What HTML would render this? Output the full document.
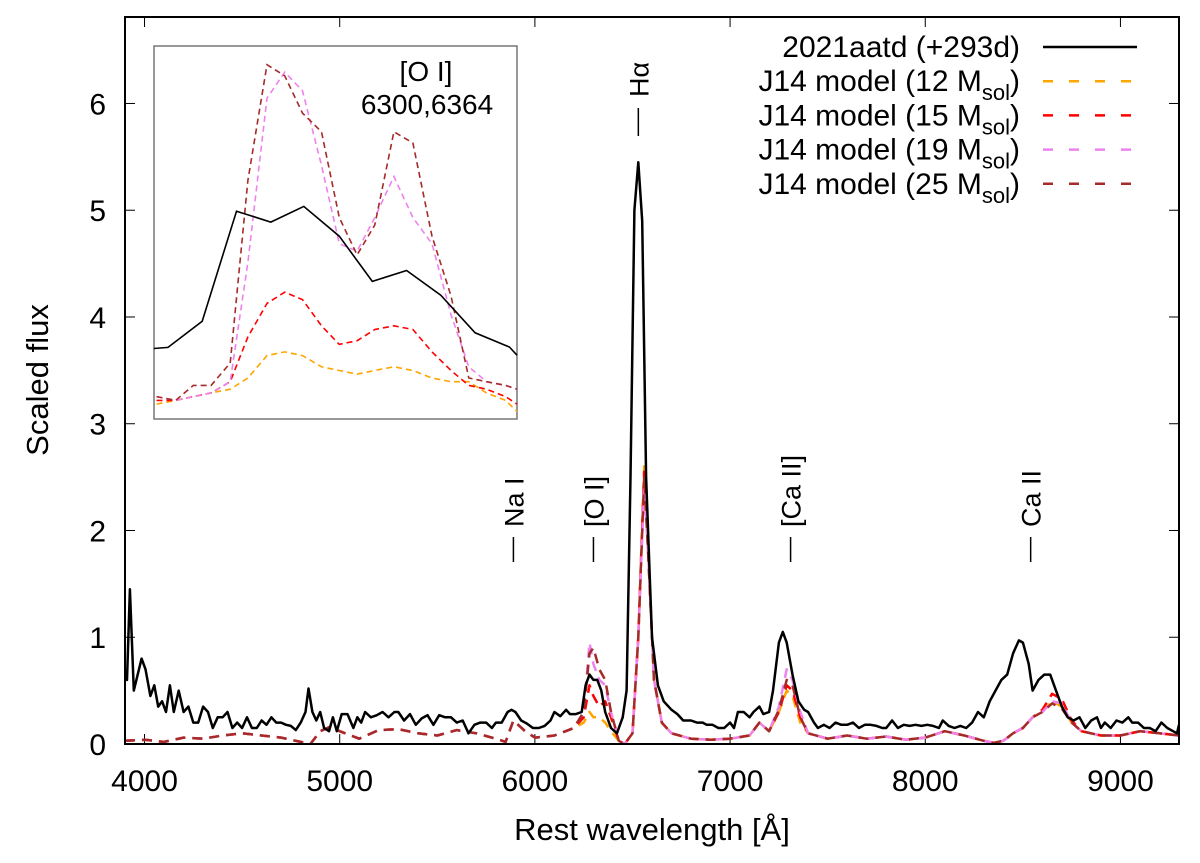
<!DOCTYPE html>
<html><head><meta charset="utf-8">
<style>
body{margin:0;background:#fff;}
svg text{font-family:"Liberation Sans",sans-serif;fill:#000;}
</style></head>
<body>
<svg id="chart" xmlns="http://www.w3.org/2000/svg" width="1200" height="858" viewBox="0 0 1200 858">
<g id="main"></g>
</svg>
<script>
// ---- main spectrum data ----
const obsWave=[3900,3910,3925,3945,3965,3985,4005,4030,4050,4070,4090,4110,4130,4150,4175,4200,4225,4250,4275,4300,4325,4350,4375,4400,4425,4450,4475,4500,4525,4550,4575,4600,4625,4650,4675,4700,4725,4750,4775,4800,4825,4840,4860,4880,4900,4920,4945,4965,4985,5010,5040,5070,5090,5110,5130,5160,5190,5220,5250,5280,5300,5330,5360,5390,5420,5450,5480,5510,5540,5570,5600,5630,5660,5690,5720,5750,5780,5800,5830,5860,5880,5900,5930,5960,5990,6020,6050,6080,6100,6130,6160,6180,6210,6240,6260,6280,6300,6320,6340,6360,6390,6420,6450,6470,6490,6510,6530,6550,6570,6600,6630,6660,6700,6730,6760,6800,6830,6860,6880,6910,6940,6970,7000,7020,7040,7070,7100,7120,7150,7170,7200,7220,7250,7270,7290,7320,7350,7380,7400,7430,7450,7480,7510,7540,7570,7600,7630,7660,7690,7720,7750,7780,7800,7830,7860,7890,7920,7950,7980,8010,8040,8070,8090,8120,8150,8180,8210,8240,8270,8300,8330,8360,8390,8420,8450,8480,8500,8530,8550,8580,8610,8640,8670,8700,8730,8760,8790,8820,8850,8880,8900,8920,8950,8980,9010,9040,9060,9090,9120,9150,9180,9210,9240,9270,9290,9300];
const obsFlux=[.65,.6,1.45,.5,.65,.8,.7,.45,.55,.35,.4,.3,.55,.3,.5,.3,.35,.2,.2,.35,.3,.15,.25,.25,.3,.15,.2,.15,.25,.15,.15,.22,.18,.25,.2,.2,.18,.17,.13,.2,.3,.52,.3,.22,.3,.15,.12,.25,.12,.28,.28,.15,.25,.2,.3,.25,.27,.3,.25,.3,.3,.22,.28,.18,.24,.27,.18,.27,.25,.25,.2,.22,.1,.18,.2,.2,.15,.2,.2,.3,.32,.3,.22,.19,.15,.15,.17,.22,.3,.26,.32,.28,.28,.3,.55,.65,.6,.6,.5,.3,.15,.1,.25,.5,2.5,5.0,5.45,4.9,2.5,1.0,.55,.4,.32,.28,.22,.22,.2,.2,.18,.18,.15,.15,.2,.15,.3,.3,.25,.3,.35,.28,.3,.5,.95,1.05,.95,.65,.4,.32,.3,.2,.15,.18,.15,.2,.18,.18,.2,.15,.18,.18,.17,.15,.15,.22,.15,.18,.17,.18,.17,.18,.17,.15,.22,.17,.15,.17,.15,.2,.3,.25,.4,.5,.6,.65,.85,.97,.95,.75,.5,.6,.65,.65,.5,.35,.25,.22,.25,.15,.22,.25,.15,.2,.15,.22,.2,.25,.2,.2,.15,.15,.12,.2,.15,.12,.1,.18];
const modelWave=[3900,4000,4100,4200,4300,4400,4500,4600,4700,4800,4850,4900,4950,5000,5100,5200,5300,5400,5500,5600,5700,5800,5850,5890,5950,6000,6100,6200,6250,6280,6300,6330,6360,6390,6430,6460,6500,6530,6560,6580,6610,6650,6700,6800,6900,7000,7100,7150,7200,7250,7290,7320,7360,7400,7500,7600,7700,7800,7900,8000,8100,8200,8300,8350,8400,8450,8500,8550,8600,8650,8700,8750,8800,8900,9000,9100,9200,9300];
const m12=[.03,.04,.02,.06,.05,.08,.1,.08,.06,.02,0,.12,.16,.12,.05,.13,.14,.1,.08,.13,.1,.05,.02,.22,.12,.06,.08,.15,.2,.3,.25,.25,.2,.12,.03,0,.1,1.0,2.6,1.8,.6,.2,.1,.05,.04,.05,.08,.2,.12,.3,.5,.45,.2,.1,.05,.08,.05,.07,.04,.06,.12,.08,.03,.01,.03,.1,.15,.25,.3,.4,.35,.2,.12,.08,.08,.12,.1,.08];
const m15=[.03,.04,.02,.06,.05,.08,.1,.08,.06,.02,0,.12,.16,.12,.05,.13,.14,.1,.08,.13,.1,.05,.02,.22,.12,.06,.08,.15,.25,.55,.45,.35,.4,.25,.03,0,.1,1.0,2.55,1.8,.6,.2,.1,.05,.04,.05,.08,.2,.12,.3,.55,.5,.25,.1,.05,.08,.05,.07,.04,.06,.12,.08,.03,.01,.03,.1,.15,.25,.32,.47,.42,.22,.12,.08,.08,.12,.1,.08];
const m19=[.03,.04,.02,.06,.05,.08,.1,.08,.06,.02,0,.12,.16,.12,.05,.13,.14,.1,.08,.13,.1,.05,.02,.22,.12,.06,.08,.15,.3,.95,.75,.6,.55,.3,.03,0,.1,1.0,2.4,1.8,.6,.2,.1,.05,.04,.05,.08,.2,.12,.35,.7,.6,.3,.1,.05,.08,.05,.07,.04,.06,.12,.08,.03,.01,.03,.1,.15,.25,.3,.4,.38,.2,.12,.08,.08,.12,.1,.08];
const m25=[.03,.04,.02,.06,.05,.08,.1,.08,.06,.02,0,.12,.16,.12,.05,.13,.14,.1,.08,.13,.1,.05,.02,.22,.12,.06,.08,.15,.3,.85,.9,.7,.6,.3,.03,0,.1,1.0,2.5,1.8,.6,.2,.1,.05,.04,.05,.08,.2,.12,.32,.6,.55,.25,.1,.05,.08,.05,.07,.04,.06,.12,.08,.03,.01,.03,.1,.15,.25,.3,.38,.33,.2,.12,.08,.08,.12,.1,.08];
const xTicks=[4000,5000,6000,7000,8000,9000];
const yTicks=[0,1,2,3,4,5,6];
// ---- inset data ----
const insetObsWave=[6180,6191,6218,6245,6272,6298,6326,6352,6379,6406,6433,6460,6466];
const insetObsFlux=[.189,.192,.262,.557,.528,.570,.490,.369,.398,.332,.231,.193,.171];
const insetModelWave=[6182,6197,6211,6225,6240,6254,6269,6283,6297,6312,6326,6340,6354,6369,6384,6399,6414,6428,6442,6457,6466];
const inset12=[.04,.05,.06,.07,.08,.11,.17,.18,.17,.14,.13,.12,.13,.14,.13,.11,.10,.10,.07,.05,.02];
const inset15=[.05,.05,.06,.07,.10,.22,.31,.34,.32,.25,.20,.21,.24,.25,.24,.18,.13,.09,.08,.06,.04];
const inset19=[.06,.05,.06,.07,.10,.42,.86,.93,.88,.68,.47,.45,.54,.65,.54,.47,.28,.14,.10,.09,.08];
const inset25=[.06,.05,.09,.09,.15,.64,.95,.92,.82,.77,.54,.44,.52,.77,.74,.49,.33,.11,.10,.09,.08];
const lineLabels=[["Na I",5890],["[O I]",6300],["[Ca II]",7310],["Ca II",8540]];

const NS="http://www.w3.org/2000/svg";
const svg=document.getElementById('chart');
const L=125,R=1179,T=17,B=744;
const xMin=3900,xMax=9300,yMin=0,yMax=6.81;
const xs=v=>L+(v-xMin)/(xMax-xMin)*(R-L);
const ys=v=>B-(v-yMin)/(yMax-yMin)*(B-T);
const IL=154,IR=517,IT=46,IB=419;
const ixs=v=>IL+(v-6180)/(6466-6180)*(IR-IL);
const iys=v=>IB-v*(IB-IT);
function mk(tag,attrs,parent){const e=document.createElementNS(NS,tag);for(const k in attrs)e.setAttribute(k,attrs[k]);(parent||svg).appendChild(e);return e;}
function pathD(wx,fy,X,Y){return wx.map((w,i)=>(i?'L':'M')+X(w).toFixed(1)+','+Y(fy[i]).toFixed(1)).join(' ');}

const defs=mk('defs',{});
const cp=mk('clipPath',{id:'pc'},defs);mk('rect',{x:L,y:T,width:R-L,height:B-T},cp);

xTicks.forEach(t=>{
  const a=mk('line',{x1:xs(t),x2:xs(t),y1:B,y2:B-10,stroke:'#000','stroke-width':1});
  
  const b=mk('line',{x1:xs(t),x2:xs(t),y1:T,y2:T+10,stroke:'#000','stroke-width':1});
  
  const tx=mk('text',{x:xs(t),y:B+47,'text-anchor':'middle','font-size':30});tx.textContent=t;
  
});
yTicks.forEach(t=>{
  const a=mk('line',{x1:L,x2:L+10,y1:ys(t),y2:ys(t),stroke:'#000','stroke-width':1});
  
  const b=mk('line',{x1:R,x2:R-10,y1:ys(t),y2:ys(t),stroke:'#000','stroke-width':1});
  
  const tx=mk('text',{x:106,y:ys(t)+11,'text-anchor':'end','font-size':30});tx.textContent=t;
  
});

const g=mk('g',{'clip-path':'url(#pc)'});

const models=[[m12,'#ffa500','model-12msol'],[m15,'#ff0000','model-15msol'],[m19,'#ee82ee','model-19msol'],[m25,'#a52a2a','model-25msol']];
models.forEach(m=>{
  const p=mk('path',{d:pathD(modelWave,m[0],xs,ys),fill:'none',stroke:m[1],'stroke-width':2.5,'stroke-dasharray':'10,7','stroke-linejoin':'round'},g);
  
});
const ob=mk('path',{d:pathD(obsWave,obsFlux,xs,ys),fill:'none',stroke:'#000','stroke-width':2.5,'stroke-linejoin':'round'},g);


const fr=mk('rect',{x:L,y:T,width:R-L,height:B-T,fill:'none',stroke:'#000','stroke-width':2});


lineLabels.forEach(l=>{
  const x=xs(l[1]);
  const ln=mk('line',{x1:x,x2:x,y1:537,y2:562,stroke:'#000','stroke-width':1.5});
  
  const t=mk('text',{x:x+10,y:527,'text-anchor':'start','font-size':27,transform:`rotate(-90 ${x+10} 527)`});t.textContent=l[0];
  
});
{
  const x=xs(6530);
  const ln=mk('line',{x1:x,x2:x,y1:108,y2:136,stroke:'#000','stroke-width':1.5});
  
  const t=mk('text',{x:x+10,y:97,'font-size':27,transform:`rotate(-90 ${x+10} 97)`});t.textContent='Hα';
  
}

const ibg=mk('rect',{x:IL,y:IT,width:IR-IL,height:IB-IT,fill:'#fff',stroke:'#777','stroke-width':1.5});

const inModels=[[inset12,'#ffa500'],[inset15,'#ff0000'],[inset19,'#ee82ee'],[inset25,'#a52a2a']];
inModels.forEach(m=>{
  const p=mk('path',{d:pathD(insetModelWave,m[0],ixs,iys),fill:'none',stroke:m[1],'stroke-width':1.6,'stroke-dasharray':'6,4'});
  
});
const iob=mk('path',{d:pathD(insetObsWave,insetObsFlux,ixs,iys),fill:'none',stroke:'#000','stroke-width':1.6});

const it1=mk('text',{x:426,y:81,'text-anchor':'middle','font-size':28});it1.textContent='[O I]';

const it2=mk('text',{x:427,y:114,'text-anchor':'middle','font-size':28});it2.textContent='6300,6364';


const leg=mk('g',{});

const legItems=[['2021aatd (+293d)',null,'#000',false],['J14 model (12 M','sol','#ffa500',true],['J14 model (15 M','sol','#ff0000',true],['J14 model (19 M','sol','#ee82ee',true],['J14 model (25 M','sol','#a52a2a',true]];
legItems.forEach((it,i)=>{
  const y=47+i*34.2;
  const t=mk('text',{x:1020,y:y+10,'text-anchor':'end','font-size':30},leg);
  
  if(it[1]){
    const a=mk('tspan',{},t);a.textContent=it[0];
    const s=mk('tspan',{dy:9,'font-size':22},t);s.textContent=it[1];
    const c=mk('tspan',{dy:-9},t);c.textContent=')';
  } else t.textContent=it[0];
  const ln=mk('line',{x1:1043,x2:1137,y1:y,y2:y,stroke:it[2],'stroke-width':2.5},leg);
  if(it[3])ln.setAttribute('stroke-dasharray','10,16');
  
});

const xt=mk('text',{x:652,y:840,'text-anchor':'middle','font-size':31});xt.textContent='Rest wavelength [Å]';

const yt=mk('text',{x:48,y:380,'text-anchor':'middle','font-size':31,transform:'rotate(-90 48 380)'});yt.textContent='Scaled flux';

</script>
</body></html>
